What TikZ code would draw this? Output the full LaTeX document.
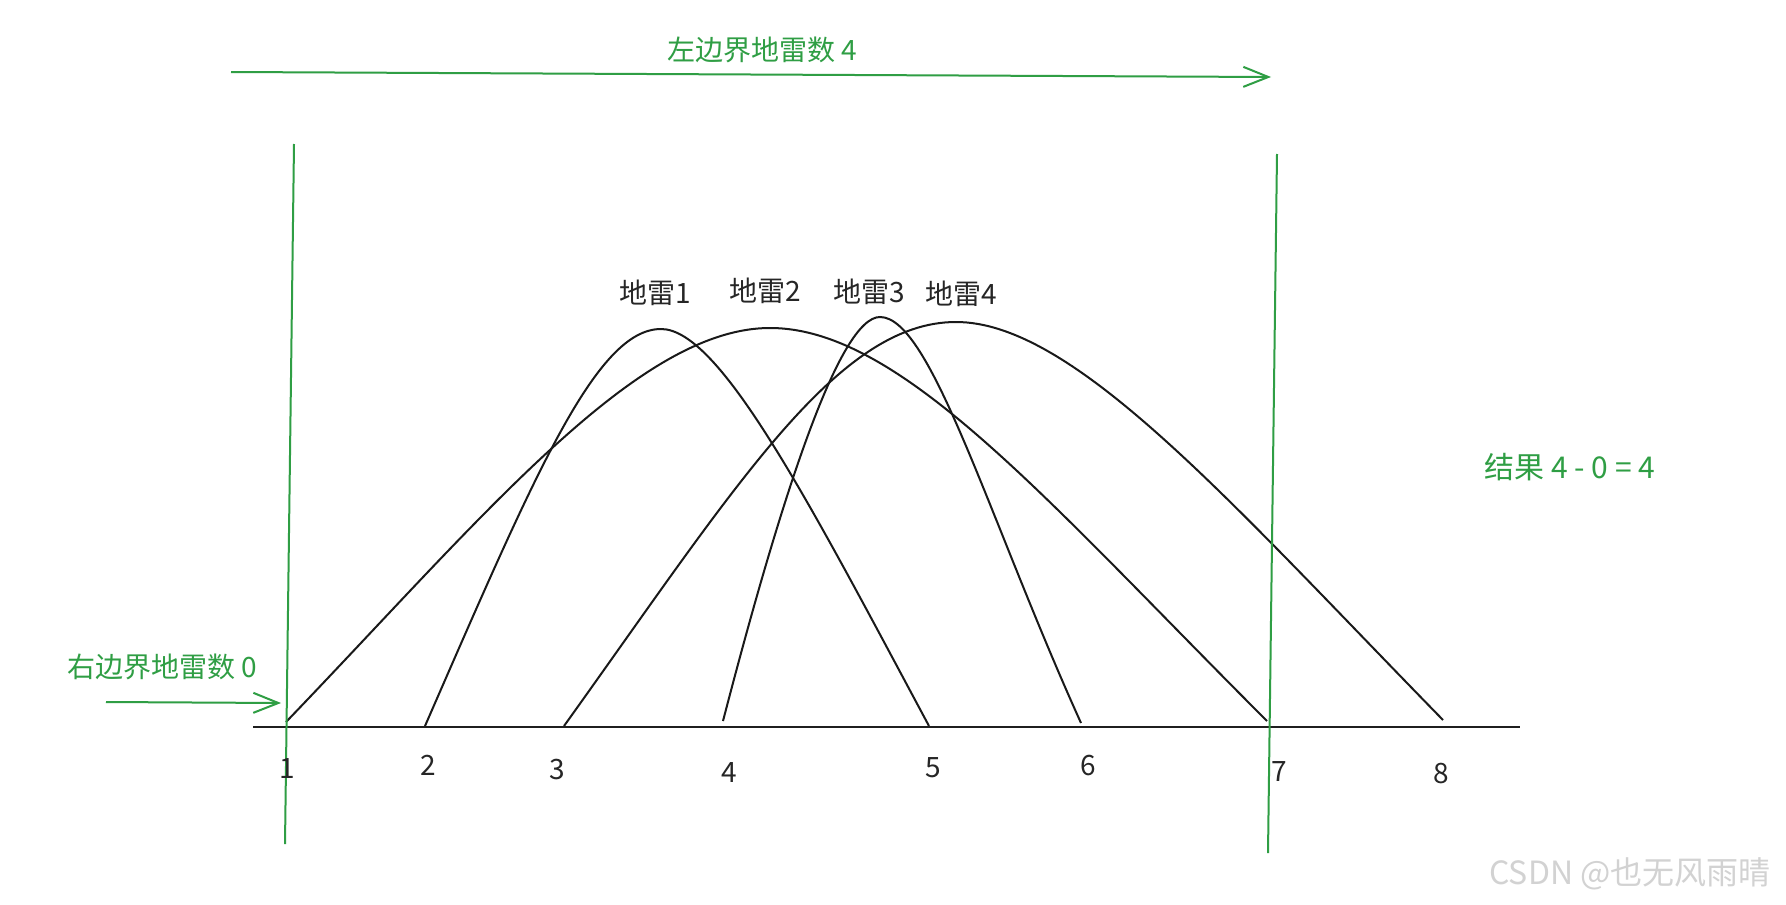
\documentclass[tikz,border=0pt]{standalone}
\usepackage{fontspec}
\setmainfont{Noto Sans CJK SC}
\usetikzlibrary{arrows.meta}
\definecolor{exgreen}{RGB}{47,158,68}
\definecolor{wmgray}{RGB}{210,210,210}
\tikzset{
  curve/.style={line width=2pt, black!90},
  axisline/.style={line width=2.6pt, black!88},
  bound/.style={line width=2pt, exgreen},
  garrow/.style={line width=2pt, exgreen, -{Straight Barb[length=25pt,width=20pt,line width=2pt]}},
  glabel/.style={text=exgreen, font=\fontsize{28pt}{32pt}\selectfont, inner sep=0pt},
  rlabel/.style={text=exgreen, font=\fontsize{30pt}{34pt}\selectfont, inner sep=0pt},
  mlabel/.style={text=black!85, font=\fontsize{28pt}{32pt}\selectfont, inner sep=0pt},
  nlabel/.style={text=black!85, font=\fontsize{28pt}{32pt}\selectfont, inner sep=0pt},
  wmark/.style={text=wmgray, font=\fontsize{32pt}{36pt}\selectfont, inner sep=0pt}
}
\begin{document}
\begin{tikzpicture}[x=1pt,y=-1pt]
\useasboundingbox (0,0) rectangle (1786,905);
\fill[white] (0,0) rectangle (1786,905);

% axis
\coordinate (axL) at (253,727);
\coordinate (axR) at (1520,727);
\draw[axisline] (axL) -- (axR);

% mine curves: start, peak, end
\coordinate (m1s) at (425,726); \coordinate (m1p) at (661,329); \coordinate (m1e) at (929,726);
\coordinate (m2s) at (286,722); \coordinate (m2p) at (770,328); \coordinate (m2e) at (1267,721);
\coordinate (m3s) at (723,721); \coordinate (m3p) at (880,317); \coordinate (m3e) at (1081,723);
\coordinate (m4s) at (564,726); \coordinate (m4p) at (956,322); \coordinate (m4e) at (1443,720);

\draw[curve] (m1s) .. controls (535,474) and (596,329) .. (m1p)
             .. controls (720,329) and (809,502) .. (m1e);
\draw[curve] (m2s) .. controls (483,517) and (637,328) .. (m2p)
             .. controls (901,328) and (1047,501) .. (m2e);
\draw[curve] (m3s) .. controls (783,490) and (840,317) .. (m3p)
             .. controls (931,317) and (989,520) .. (m3e);
\draw[curve] (m4s) .. controls (736,486) and (837,322) .. (m4p)
             .. controls (1074,322) and (1230,502) .. (m4e);

% green boundary lines
\coordinate (lbT) at (294,144);
\coordinate (lbB) at (285,844);
\coordinate (rbT) at (1277,154);
\coordinate (rbB) at (1268,853);
\draw[bound] (lbT) -- (lbB);
\draw[bound] (rbT) -- (rbB);

% arrows
\coordinate (taS) at (231,72);
\coordinate (taE) at (1271,77);
\draw[garrow] (taS) -- (taE);
\coordinate (laS) at (106,702);
\coordinate (laE) at (281,703);
\draw[garrow] (laS) -- (laE);

% green labels
\node[glabel] (ltop) at (762,50) {左边界地雷数 4};
\node[glabel] (lleft) at (162,667) {右边界地雷数 0};
\node[rlabel] (lres) at (1570,467) {结果 4 - 0 = 4};

% mine labels
\node[mlabel] (m1) at (655,293) {地雷1};
\node[mlabel] (m2) at (765,291) {地雷2};
\node[mlabel] (m3) at (869,292) {地雷3};
\node[mlabel] (m4) at (961,294) {地雷4};

% number labels
\node[nlabel] (n1) at (287,769) {1};
\node[nlabel] (n2) at (428,765) {2};
\node[nlabel] (n3) at (557,770) {3};
\node[nlabel] (n4) at (729,773) {4};
\node[nlabel] (n5) at (933,768) {5};
\node[nlabel] (n6) at (1088,766) {6};
\node[nlabel] (n7) at (1279,772) {7};
\node[nlabel] (n8) at (1441,774) {8};

% watermark
\node[wmark] (wm) at (1630,874) {CSDN @也无风雨晴};
\end{tikzpicture}
\end{document}
